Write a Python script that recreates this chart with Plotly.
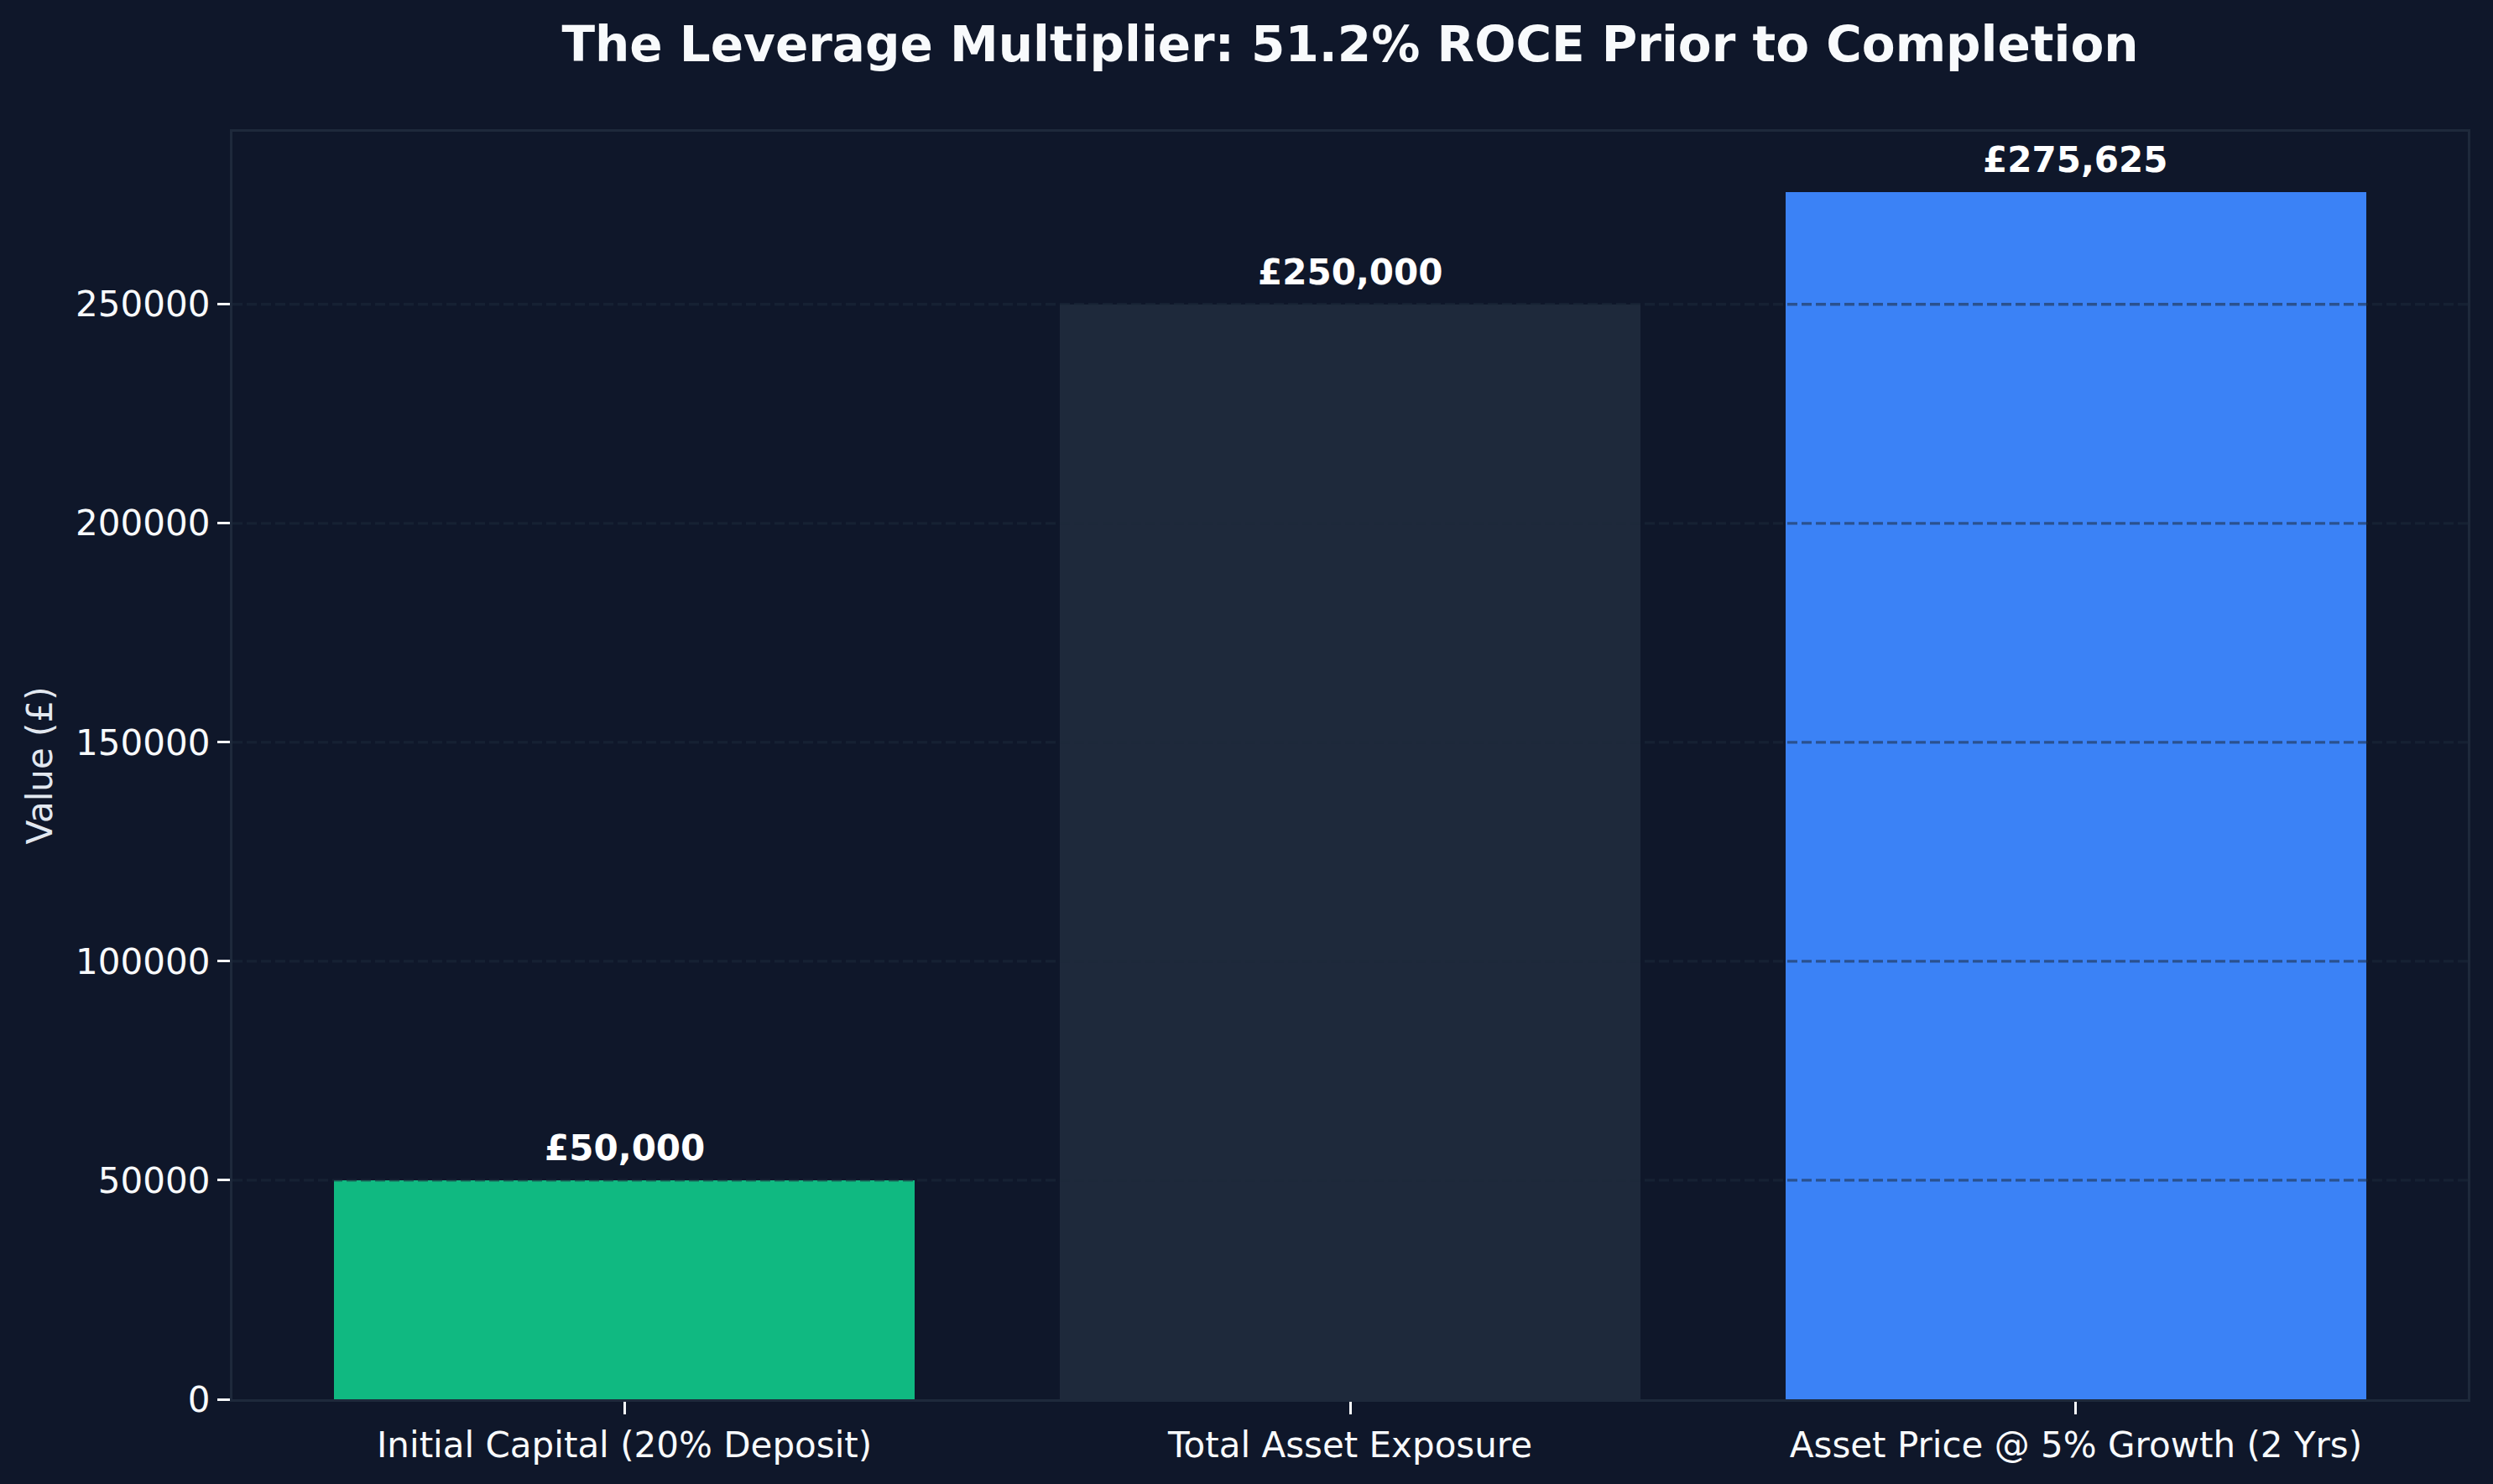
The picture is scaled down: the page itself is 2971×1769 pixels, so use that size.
import plotly.graph_objects as go

categories = ["Initial Capital (20% Deposit)", "Total Asset Exposure", "Asset Price @ 5% Growth (2 Yrs)"]
values = [50000, 250000, 275625]
bar_labels = ["£50,000", "£250,000", "£275,625"]
bar_colors = ["#10b981", "#1e293b", "#3b82f6"]
y_ticks = [0, 50000, 100000, 150000, 200000, 250000]

title_text = "The Leverage Multiplier: 51.2% ROCE Prior to Completion"
y_title = "Value (£)"

BG = "#0f172a"
FONT = "DejaVu Sans"
GRID = "rgba(30,41,59,0.55)"

fig = go.Figure()
fig.add_trace(go.Bar(
    x=[0, 1, 2],
    y=values,
    width=0.8,
    marker=dict(color=bar_colors, line=dict(width=0)),
    hoverinfo="skip",
))

for i, (v, lab) in enumerate(zip(values, bar_labels)):
    fig.add_annotation(
        x=i, y=v, text="<b>" + lab + "</b>", showarrow=False,
        xanchor="center", yanchor="bottom", yshift=12,
        font=dict(family=FONT, size=42, color="#ffffff"),
    )

# dashed grid drawn above the bars (as in the reference)
for t in y_ticks[1:]:
    fig.add_shape(
        type="line", xref="paper", yref="y", x0=0, x1=1, y0=t, y1=t,
        line=dict(color=GRID, width=3.3, dash="12px,5px"), layer="above",
    )

fig.update_layout(
    width=2971, height=1769,
    paper_bgcolor=BG, plot_bgcolor=BG,
    margin=dict(l=277, r=30, t=157, b=101, autoexpand=False),
    showlegend=False,
    bargap=0,
    title=dict(
        text="<b>" + title_text + "</b>",
        xref="paper", x=0.5, xanchor="center",
        yref="container", y=1 - 53 / 1769, yanchor="middle",
        font=dict(family=FONT, size=58, color="#f8fafc"),
    ),
    font=dict(family=FONT, color="#f8fafc"),
)

fig.update_xaxes(
    range=[-0.54, 2.54],
    tickmode="array", tickvals=[0, 1, 2], ticktext=categories,
    tickfont=dict(family=FONT, size=42, color="#f8fafc"),
    ticks="outside", ticklen=15, tickwidth=2.5, tickcolor="#f8fafc",
    showgrid=False, zeroline=False,
    showline=True, linecolor="#1e293b", linewidth=3.3, mirror=True,
    layer="above traces",
)

fig.update_yaxes(
    range=[0, 289406.25],
    tickmode="array", tickvals=y_ticks, tickformat="d",
    tickfont=dict(family=FONT, size=42, color="#f8fafc"),
    ticks="outside", ticklen=15, tickwidth=2.5, tickcolor="#f8fafc",
    showgrid=False,
    zeroline=False,
    showline=True, linecolor="#1e293b", linewidth=3.3, mirror=True,
    layer="above traces",
    title=dict(text=y_title, font=dict(family=FONT, size=42, color="#e2e8f0"), standoff=15),
)

fig.write_html("out.html")
